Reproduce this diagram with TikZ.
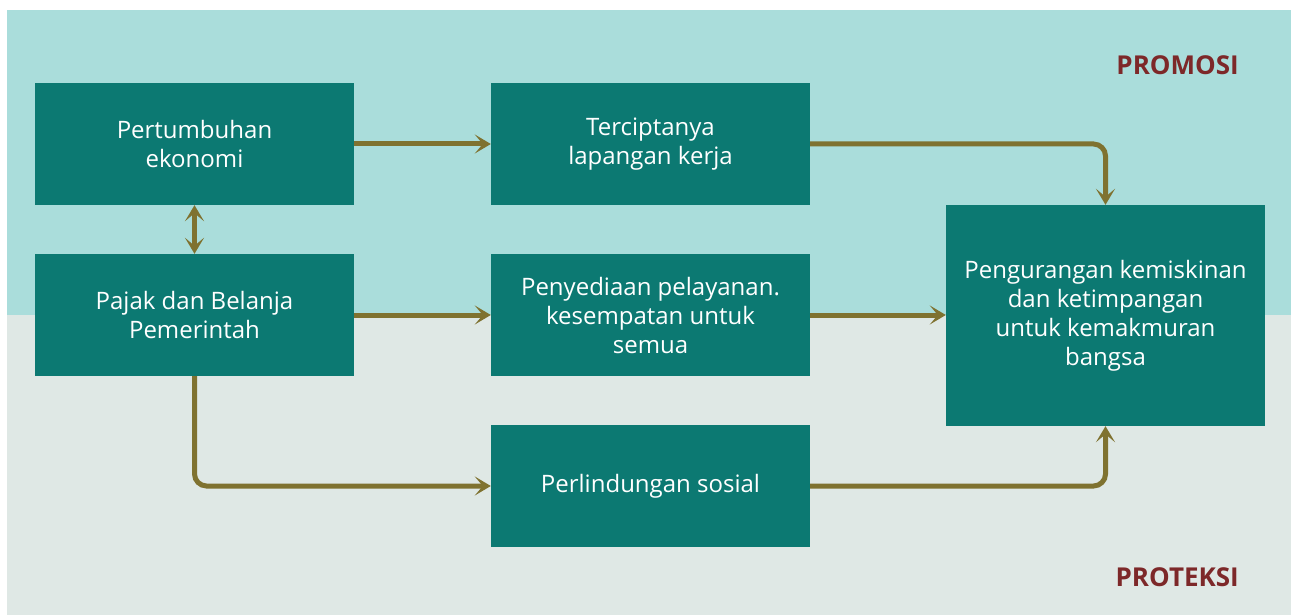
\documentclass[tikz,border=0pt]{standalone}
\usepackage{fontspec}
\setmainfont{Open Sans}
\usetikzlibrary{arrows.meta}
\definecolor{bandtop}{HTML}{AADDDB}
\definecolor{bandbot}{HTML}{DFE8E5}
\definecolor{boxfill}{HTML}{0C7972}
\definecolor{flow}{HTML}{7F7230}
\definecolor{tag}{HTML}{7D2829}
\begin{document}
\begin{tikzpicture}[x=1pt,y=-1pt,
  stagebox/.style={fill=boxfill, text=white, minimum width=319pt, minimum height=122pt,
    inner sep=0pt, align=center, font=\fontsize{24}{29}\selectfont},
  flowline/.style={draw=flow, line width=5pt, rounded corners=12pt,
    -{Stealth[length=16pt,width=19pt,inset=8pt]}},
  bothway/.style={draw=flow, line width=5pt,
    {Stealth[length=16pt,width=19pt,inset=8pt]}-{Stealth[length=16pt,width=19pt,inset=8pt]}},
  bandlabel/.style={text=tag, anchor=base east, inner sep=0pt,
    font=\fontsize{26}{30}\selectfont\bfseries}]
  \useasboundingbox (0,0) rectangle (1291,615);
  % two background bands
  \fill[bandtop] (7,10) rectangle (1291,315);
  \fill[bandbot] (7,315) rectangle (1291,615);
  % band labels
  \node[bandlabel] (promosi) at (1239,75) {PROMOSI};
  \node[bandlabel] (proteksi) at (1239,586) {PROTEKSI};
  % stages
  \node[stagebox] (tumbuh) at (194.5,144) {Pertumbuhan\\ekonomi};
  \node[stagebox] (pajak) at (194.5,315) {Pajak dan Belanja\\Pemerintah};
  \node[stagebox] (kerja) at (650.5,144) {Terciptanya\\lapangan kerja};
  \node[stagebox] (layan) at (650.5,315) {Penyediaan pelayanan.\\kesempatan untuk\\semua};
  \node[stagebox] (lindung) at (650.5,486) {Perlindungan sosial};
  \node[stagebox, minimum height=221pt] (kurang) at (1105.5,315.5)
    {Pengurangan kemiskinan\\dan ketimpangan\\untuk kemakmuran\\bangsa};
  % connectors
  \draw[flowline] (tumbuh.east) -- (kerja.west);
  \draw[bothway] (tumbuh.south) -- (pajak.north);
  \draw[flowline] (pajak.east) -- (layan.west);
  \draw[flowline] (pajak.south) |- (lindung.west);
  \draw[flowline] (kerja.east) -| (kurang.north);
  \draw[flowline] (layan.east) -- (kurang.west |- layan.east);
  \draw[flowline] (lindung.east) -| (kurang.south);
\end{tikzpicture}
\end{document}
